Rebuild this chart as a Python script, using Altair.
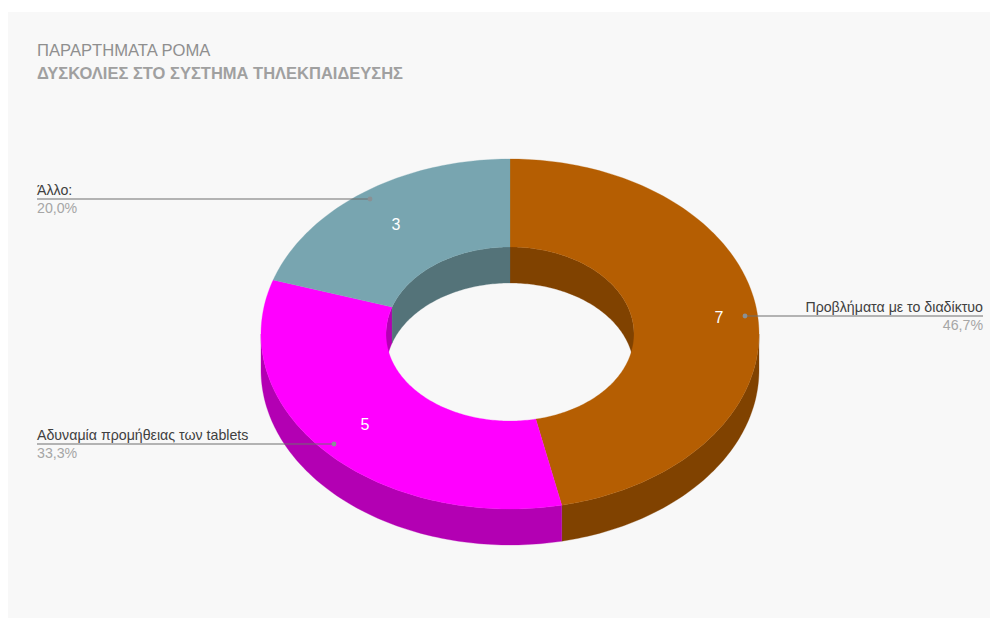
import math
import altair as alt
import pandas as pd

# ---- chart values -------------------------------------------------------
categories = ["Προβλήματα με το διαδίκτυο", "Αδυναμία προμήθειας των tablets", "Άλλο:"]
values = [7, 5, 3]
percent_labels = ["46,7%", "33,3%", "20,0%"]
title_line1 = "ΠΑΡΑΡΤΗΜΑΤΑ ΡΟΜΑ"
title_line2 = "ΔΥΣΚΟΛΙΕΣ ΣΤΟ ΣΥΣΤΗΜΑ ΤΗΛΕΚΠΑΙΔΕΥΣΗΣ"
top_colors = ["#b55e02", "#ff00ff", "#78a5b0"]
side_colors = ["#804200", "#b300b3", "#547379"]

# ---- layout (page pixels) ------------------------------------------------
W, H = 982, 610
OX, OY = 8, 8
CX, CY = 510, 334
RX, RY = 249, 175
IRX, IRY = 124, 87
DEPTH = 36
BG = "#f8f8f8"

x_scale = alt.Scale(domain=[OX, OX + W], range=[0, W], nice=False, zero=False)
y_scale = alt.Scale(domain=[OY, OY + H], range=[0, H], nice=False, zero=False)
X = alt.X("x:Q", scale=x_scale, axis=None)
Y = alt.Y("y:Q", scale=y_scale, axis=None)


def ell(a, rx, ry, dy=0):
    r = math.radians(a)
    return CX + rx * math.sin(r), CY - ry * math.cos(r) + dy


def arc(a0, a1, rx, ry, dy=0):
    n = max(2, int(abs(a1 - a0)) + 1)
    return [ell(a0 + (a1 - a0) * i / (n - 1), rx, ry, dy) for i in range(n)]


def poly(points, color):
    df = pd.DataFrame(points, columns=["x", "y"])
    df["i"] = range(len(df))
    return alt.Chart(df).mark_line(fill=color, stroke=color, strokeWidth=0.3, interpolate="linear-closed").encode(
        x=X, y=Y, order="i:Q"
    )


total = sum(values)
bounds = [0]
for v in values:
    bounds.append(bounds[-1] + 360 * v / total)

layers = []
# grey panel
panel = pd.DataFrame({"x": [OX], "x2": [OX + W], "y": [12], "y2": [OY + H]})
layers.append(alt.Chart(panel).mark_rect(color=BG).encode(x=X, x2="x2:Q", y=Y, y2="y2:Q"))

# outer wall (front half) and inner wall (back half)
for k in range(3):
    a0, a1 = bounds[k], bounds[k + 1]
    lo, hi = max(a0, 90), min(a1, 270)
    if lo < hi:
        layers.append(poly(arc(lo, hi, RX, RY) + arc(hi, lo, RX, RY, DEPTH), side_colors[k]))
    for s, e in ((a0, min(a1, 90)), (max(a0, 270), a1)):
        if s < e:
            layers.append(poly(arc(s, e, IRX, IRY) + arc(e, s, IRX, IRY, DEPTH), side_colors[k]))

# top faces
for k in range(3):
    a0, a1 = bounds[k], bounds[k + 1]
    pts = arc(a0, a1, RX, RY) + arc(a1, a0, IRX, IRY)
    layers.append(poly(pts, top_colors[k]))

# value labels
val_df = pd.DataFrame({"x": [719, 365, 396], "y": [318, 425, 225], "t": [str(v) for v in values]})
layers.append(alt.Chart(val_df).mark_text(font="Liberation Sans", fontSize=16, color="#ffffff").encode(x=X, y=Y, text="t:N"))

# leader lines
lead = pd.DataFrame({
    "x": [983, 37, 37], "x2": [745, 334, 370], "y": [316, 444, 199], "c": categories,
})
layers.append(alt.Chart(lead).mark_rule(color="#6e6e6e", strokeWidth=1).encode(x=X, x2="x2:Q", y=Y))
dots = pd.DataFrame({"x": [745, 334, 370], "y": [316, 444, 199]})
layers.append(alt.Chart(dots).mark_circle(color="#8a9094", size=24, opacity=1).encode(x=X, y=Y))

# category and percent labels
lab = pd.DataFrame({"x": [983, 37, 37], "y": [308, 436, 191], "t": categories, "a": ["right", "left", "left"]})
pct = pd.DataFrame({"x": [983, 37, 37], "y": [326, 454, 209], "t": percent_labels, "a": ["right", "left", "left"]})
for df, col in ((lab, "#404040"), (pct, "#a6a6a6")):
    for a in ("left", "right"):
        sub = df[df["a"] == a]
        layers.append(alt.Chart(sub).mark_text(font="Liberation Sans", fontSize=14.2, color=col, align=a, baseline="middle").encode(x=X, y=Y, text="t:N"))

# titles
layers.append(alt.Chart(pd.DataFrame({"x": [37], "y": [51], "t": [title_line1]})).mark_text(
    font="Liberation Sans", fontSize=16.6, color="#8f8f8f", align="left", baseline="middle").encode(x=X, y=Y, text="t:N"))
layers.append(alt.Chart(pd.DataFrame({"x": [37], "y": [74], "t": [title_line2]})).mark_text(
    font="Liberation Sans", fontSize=16.5, fontWeight="bold", color="#a0a0a0", align="left", baseline="middle").encode(x=X, y=Y, text="t:N"))

chart = alt.layer(*layers).properties(
    width=W, height=H, padding=0, background="#ffffff",
    autosize=alt.AutoSizeParams(type="none"),
).configure_view(stroke=None)

chart.save("out.html", embed_options={"renderer": "svg", "actions": False})
